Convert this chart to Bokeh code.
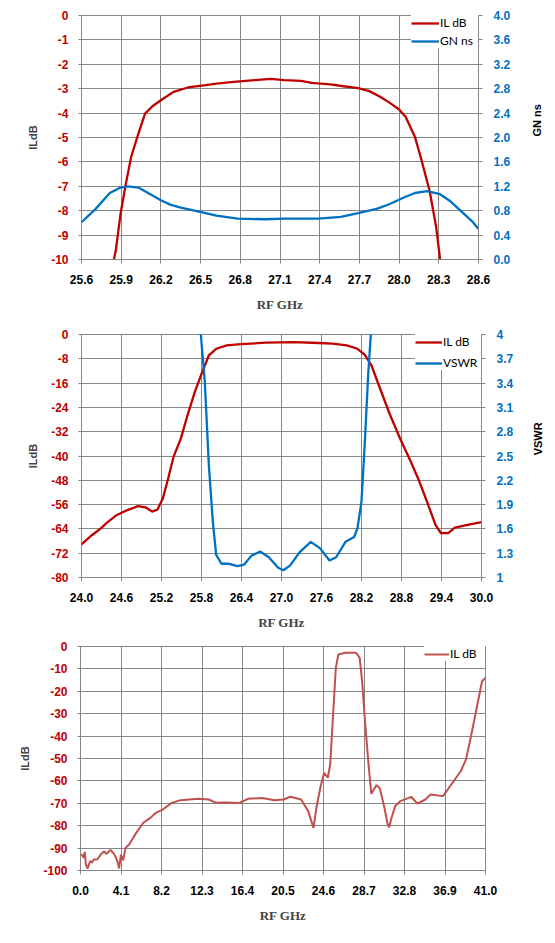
import math
from bokeh.plotting import figure
from bokeh.models import Range1d, LinearAxis, FixedTicker, NumeralTickFormatter, Legend, LegendItem
from bokeh.core.properties import value
from bokeh.layouts import column, row
from bokeh.embed import file_html
from bokeh.resources import INLINE

# ---------------- Chart 1 data ----------------
c1_il_freq = [25.83, 25.86, 25.895, 25.935, 25.975, 26.03, 26.055, 26.08, 26.136, 26.216, 26.296, 26.404,
              26.51, 26.62, 26.75, 26.91, 27.03, 27.13, 27.26, 27.34, 27.48, 27.58, 27.69, 27.77, 27.85,
              27.93, 28.0, 28.05, 28.12, 28.17, 28.23, 28.28, 28.31, 28.32]
c1_il = [-10.4, -9.6, -8.13, -6.9, -5.8, -4.84, -4.43, -4.02, -3.72, -3.41, -3.13, -2.95,
         -2.87, -2.79, -2.72, -2.65, -2.60, -2.65, -2.68, -2.76, -2.82, -2.90, -2.98, -3.09, -3.31,
         -3.58, -3.85, -4.16, -4.98, -5.94, -7.17, -8.67, -10.0, -10.4]
c1_gn_freq = [25.6, 25.707, 25.814, 25.895, 25.95, 26.03, 26.11, 26.20, 26.27, 26.35, 26.48, 26.62,
              26.78, 26.99, 27.13, 27.39, 27.56, 27.69, 27.83, 27.93, 28.04, 28.12, 28.21, 28.31,
              28.39, 28.47, 28.55, 28.6]
c1_gn = [0.61, 0.83, 1.09, 1.18, 1.20, 1.18, 1.08, 0.97, 0.90, 0.85, 0.79, 0.72,
         0.67, 0.66, 0.67, 0.67, 0.70, 0.76, 0.83, 0.91, 1.02, 1.09, 1.12, 1.07,
         0.95, 0.79, 0.63, 0.50]
c1_x_ticks = [25.6, 25.9, 26.2, 26.5, 26.8, 27.1, 27.4, 27.7, 28.0, 28.3, 28.6]
c1_x_labels = ["25.6", "25.9", "26.2", "26.5", "26.8", "27.1", "27.4", "27.7", "28.0", "28.3", "28.6"]
c1_y_ticks = [0, -1, -2, -3, -4, -5, -6, -7, -8, -9, -10]
c1_y_labels = ["0", "-1", "-2", "-3", "-4", "-5", "-6", "-7", "-8", "-9", "-10"]
c1_y2_ticks = [0.0, 0.4, 0.8, 1.2, 1.6, 2.0, 2.4, 2.8, 3.2, 3.6, 4.0]
c1_y2_labels = ["0.0", "0.4", "0.8", "1.2", "1.6", "2.0", "2.4", "2.8", "3.2", "3.6", "4.0"]

# ---------------- Chart 2 data ----------------
c2_il_freq = [24.0, 24.16, 24.29, 24.37, 24.53, 24.69, 24.85, 24.96, 25.06, 25.14, 25.22, 25.30,
              25.38, 25.49, 25.59, 25.70, 25.81, 25.91, 26.02, 26.18, 26.39, 26.76, 27.19, 27.56,
              27.77, 27.98, 28.14, 28.25, 28.35, 28.46, 28.62, 28.78, 28.94, 29.07, 29.20, 29.31,
              29.39, 29.50, 29.60, 29.79, 30.0]
c2_il = [-69.1, -66.0, -63.8, -62.2, -59.4, -57.8, -56.5, -56.9, -58.3, -57.6, -54.0, -47.4,
         -40.3, -34.3, -26.6, -18.9, -12.4, -6.9, -4.7, -3.6, -3.2, -2.7, -2.5, -2.8,
         -3.0, -3.6, -4.7, -6.7, -10.2, -16.7, -26.0, -34.3, -41.9, -48.5, -56.1, -62.7,
         -65.4, -65.4, -63.6, -62.7, -61.8]
c2_vswr_freq = [25.77, 25.79, 25.85, 25.91, 25.97, 26.02, 26.10, 26.20, 26.34, 26.44, 26.55, 26.68,
                26.81, 26.95, 27.03, 27.13, 27.27, 27.44, 27.58, 27.72, 27.82, 27.96, 28.09, 28.14,
                28.20, 28.25, 28.30, 28.34, 28.36]
c2_vswr = [4.6, 4.0, 3.41, 2.39, 1.69, 1.28, 1.17, 1.17, 1.14, 1.16, 1.27, 1.32,
           1.25, 1.12, 1.09, 1.15, 1.31, 1.44, 1.36, 1.21, 1.25, 1.44, 1.50, 1.61,
           1.94, 2.67, 3.50, 4.0, 4.6]
c2_x_ticks = [24.0, 24.6, 25.2, 25.8, 26.4, 27.0, 27.6, 28.2, 28.8, 29.4, 30.0]
c2_x_labels = ["24.0", "24.6", "25.2", "25.8", "26.4", "27.0", "27.6", "28.2", "28.8", "29.4", "30.0"]
c2_y_ticks = [0, -8, -16, -24, -32, -40, -48, -56, -64, -72, -80]
c2_y_labels = ["0", "-8", "-16", "-24", "-32", "-40", "-48", "-56", "-64", "-72", "-80"]
c2_y2_ticks = [1.0, 1.3, 1.6, 1.9, 2.2, 2.5, 2.8, 3.1, 3.4, 3.7, 4.0]
c2_y2_labels = ["1", "1.3", "1.6", "1.9", "2.2", "2.5", "2.8", "3.1", "3.4", "3.7", "4"]

# ---------------- Chart 3 data ----------------
c3_freq = [0.07, 0.32, 0.43, 0.54, 0.72, 0.97, 1.15, 1.33, 1.69, 2.05, 2.41, 2.6, 2.76, 2.95, 3.12,
           3.48, 3.73, 3.91, 4.09, 4.31, 4.56, 4.92, 5.64, 6.36, 7.07, 7.61, 8.33, 9.23, 10.12,
           11.92, 13.0, 13.72, 14.79, 16.05, 16.95, 18.39, 19.64, 20.54, 21.26, 22.33, 23.05,
           23.59, 23.88, 24.31, 24.67, 25.03, 25.28, 25.57, 25.85, 26.10, 26.82, 27.90, 28.26,
           28.51, 28.80, 29.16, 29.44, 29.69, 29.98, 30.31, 30.77, 31.06, 31.24, 31.49, 31.85,
           32.39, 33.47, 34.11, 34.9, 35.44, 36.7, 37.41, 38.49, 39.03, 39.57, 40.11, 40.65, 41.0]
c3_il = [-92.6, -94.3, -91.7, -97.3, -99.1, -95.8, -96.5, -95.1, -95.1, -92.9, -91.4, -92.6, -92.1, -91.0, -91.1,
         -93.2, -95.8, -99.1, -92.9, -95.5, -89.9, -88.4, -83.2, -78.7, -76.5, -74.3, -72.8, -69.8, -68.6,
         -68.0, -68.3, -69.8, -69.6, -69.9, -68.0, -67.6, -68.6, -68.3, -67.1, -68.3, -73.5,
         -81.0, -72.0, -62.4, -56.4, -58.6, -52.7, -30.4, -9.5, -3.6, -2.8, -2.8, -5.1,
         -15.5, -33.3, -52.7, -65.8, -63.8, -61.9, -63.4, -72.0, -78.7, -80.7, -76.5, -71.3,
         -69.0, -67.1, -70.1, -68.3, -66.1, -66.8, -62.4, -55.7, -50.4, -39.3, -27.4, -15.5, -14.0]
c3_x_ticks = [0.0, 4.1, 8.2, 12.3, 16.4, 20.5, 24.6, 28.7, 32.8, 36.9, 41.0]
c3_x_labels = ["0.0", "4.1", "8.2", "12.3", "16.4", "20.5", "24.6", "28.7", "32.8", "36.9", "41.0"]
c3_y_ticks = [0, -10, -20, -30, -40, -50, -60, -70, -80, -90, -100]
c3_y_labels = ["0", "-10", "-20", "-30", "-40", "-50", "-60", "-70", "-80", "-90", "-100"]

RED = "#C00000"
BLUE = "#0070C0"
RED3 = "#C0504D"
GRID = "#868686"
TICKFONT = "Liberation Sans"
TITLEFONT = "Liberation Serif"


def make_fig(height, fw, fh, left, top, right, xr, yr, xt, xl, yt, yl, ylabel_color):
    p = figure(width=left + fw + right, height=height, frame_width=fw, frame_height=fh,
               x_range=Range1d(*xr), y_range=Range1d(*yr),
               output_backend="svg", toolbar_location=None,
               min_border_left=left, min_border_top=top, min_border_right=right,
               min_border_bottom=height - top - fh)
    p.background_fill_color = "white"
    p.border_fill_color = "white"
    p.outline_line_color = GRID
    p.outline_line_width = 1
    # x axis
    xa = p.xaxis[0]
    xa.ticker = FixedTicker(ticks=xt)
    xa.formatter = NumeralTickFormatter(format="0.0")
    xa.major_label_overrides = dict(zip(xt, xl))
    xa.axis_label = "RF GHz"
    xa.axis_label_text_font = TITLEFONT
    xa.axis_label_text_font_style = "bold"
    xa.axis_label_text_font_size = "13px"
    xa.axis_label_standoff = 10
    xa.major_label_text_font = TICKFONT
    xa.major_label_text_font_style = "bold"
    xa.major_label_text_font_size = "12px"
    xa.major_label_text_color = "black"
    xa.major_label_standoff = 11
    xa.major_tick_out = 4
    xa.major_tick_in = 0
    xa.minor_tick_out = 0
    xa.minor_tick_in = 0
    xa.axis_line_color = GRID
    xa.major_tick_line_color = GRID
    # y axis
    ya = p.yaxis[0]
    ya.ticker = FixedTicker(ticks=yt)
    ya.formatter = NumeralTickFormatter(format="0")
    ya.major_label_overrides = dict(zip(yt, yl))
    ya.axis_label = "ILdB"
    ya.axis_label_text_font = TICKFONT
    ya.axis_label_text_font_style = "bold"
    ya.axis_label_text_font_size = "11px"
    ya.axis_label_standoff = 9
    ya.major_label_text_font = TICKFONT
    ya.major_label_text_font_style = "bold"
    ya.major_label_text_font_size = "12px"
    ya.major_label_text_color = ylabel_color
    ya.major_label_standoff = 10
    ya.major_tick_out = 3
    ya.major_tick_in = 0
    ya.minor_tick_out = 0
    ya.minor_tick_in = 0
    ya.axis_line_color = GRID
    ya.major_tick_line_color = GRID
    # grids
    p.xgrid.ticker = FixedTicker(ticks=xt)
    p.ygrid.ticker = FixedTicker(ticks=yt)
    for g in (p.xgrid[0], p.ygrid[0]):
        g.grid_line_color = GRID
        g.grid_line_width = 1
    return p


def add_right_axis(p, name, rng, ticks, labels, fmt):
    p.extra_y_ranges = {name: Range1d(*rng)}
    ax = LinearAxis(y_range_name=name, ticker=FixedTicker(ticks=ticks),
                    formatter=NumeralTickFormatter(format=fmt))
    ax.major_label_overrides = dict(zip(ticks, labels))
    ax.major_label_text_font = TICKFONT
    ax.major_label_text_font_style = "bold"
    ax.major_label_text_font_size = "12px"
    ax.major_label_text_color = BLUE
    ax.major_label_standoff = 11
    ax.major_tick_out = 4
    ax.major_tick_in = 0
    ax.minor_tick_out = 0
    ax.minor_tick_in = 0
    ax.axis_line_color = GRID
    ax.major_tick_line_color = GRID
    p.add_layout(ax, "right")
    return ax


def side_title(title, width, height, cx, cy):
    """Narrow strip holding the right-hand axis title, read bottom to top."""
    s = figure(width=width, height=height, x_range=Range1d(0, width), y_range=Range1d(0, height),
               output_backend="svg", toolbar_location=None,
               x_axis_location=None, y_axis_location=None,
               min_border_left=0, min_border_right=0, min_border_top=0, min_border_bottom=0)
    s.outline_line_color = None
    s.background_fill_color = "white"
    s.border_fill_color = "white"
    s.xgrid.visible = False
    s.ygrid.visible = False
    s.text(x=[cx], y=[cy], text=[title], angle=math.pi / 2, text_align="center",
           text_baseline="middle", text_font=value(TICKFONT), text_font_style="bold",
           text_font_size=value("11px"), text_color="black")
    return s


def add_legend(p, items, padding, spacing, label_width, glyph_width):
    leg = Legend(items=items, location="top_right", margin=0, padding=padding, spacing=spacing,
                 border_line_color=None, background_fill_color="white", background_fill_alpha=1.0,
                 glyph_width=glyph_width, glyph_height=14, label_height=14, label_width=label_width,
                 label_standoff=1, label_text_font="Lato", label_text_font_size="12px",
                 label_text_color="black")
    p.add_layout(leg, "center")


# ---------- Figure 1 ----------
p1 = make_fig(319, 397, 244, 81, 15, 47, (25.6, 28.6), (-10, 0),
              c1_x_ticks, c1_x_labels, c1_y_ticks, c1_y_labels, RED)
add_right_axis(p1, "gn", (0, 4), c1_y2_ticks, c1_y2_labels, "0.0")
r1 = p1.line(c1_il_freq, c1_il, line_color=RED, line_width=2.3)
r2 = p1.line(c1_gn_freq, c1_gn, line_color=BLUE, line_width=2.3, y_range_name="gn")
add_legend(p1, [LegendItem(label="IL dB", renderers=[r1]), LegendItem(label="GN ns", renderers=[r2])],
           5, 3, 38, 28)
s1 = side_title("GN ns", 23, 319, 11, 319 - 137)

# ---------- Figure 2 ----------
p2 = make_fig(318, 400, 243, 81, 15, 44, (24.0, 30.0), (-80, 0),
              c2_x_ticks, c2_x_labels, c2_y_ticks, c2_y_labels, RED)
add_right_axis(p2, "vswr", (1, 4), c2_y2_ticks, c2_y2_labels, "0.[0]")
r3 = p2.line(c2_il_freq, c2_il, line_color=RED, line_width=2.3)
r4 = p2.line(c2_vswr_freq, c2_vswr, line_color=BLUE, line_width=2.3, y_range_name="vswr")
add_legend(p2, [LegendItem(label="IL dB", renderers=[r3]), LegendItem(label="VSWR", renderers=[r4])],
           6, 6, 38, 27)
s2 = side_title("VSWR", 23, 318, 12, 318 - 136.5)

# ---------- Figure 3 ----------
p3 = make_fig(293, 405, 224, 80, 9, 63, (0.0, 41.0), (-100, 0),
              c3_x_ticks, c3_x_labels, c3_y_ticks, c3_y_labels, RED)
r5 = p3.line(c3_freq, c3_il, line_color=RED3, line_width=2)
add_legend(p3, [LegendItem(label="IL dB", renderers=[r5])], 3, 3, 35, 25)

layout = column(row(p1, s1, spacing=0), row(p2, s2, spacing=0), p3, spacing=0)
open("out.html", "w").write(file_html(layout, INLINE))
